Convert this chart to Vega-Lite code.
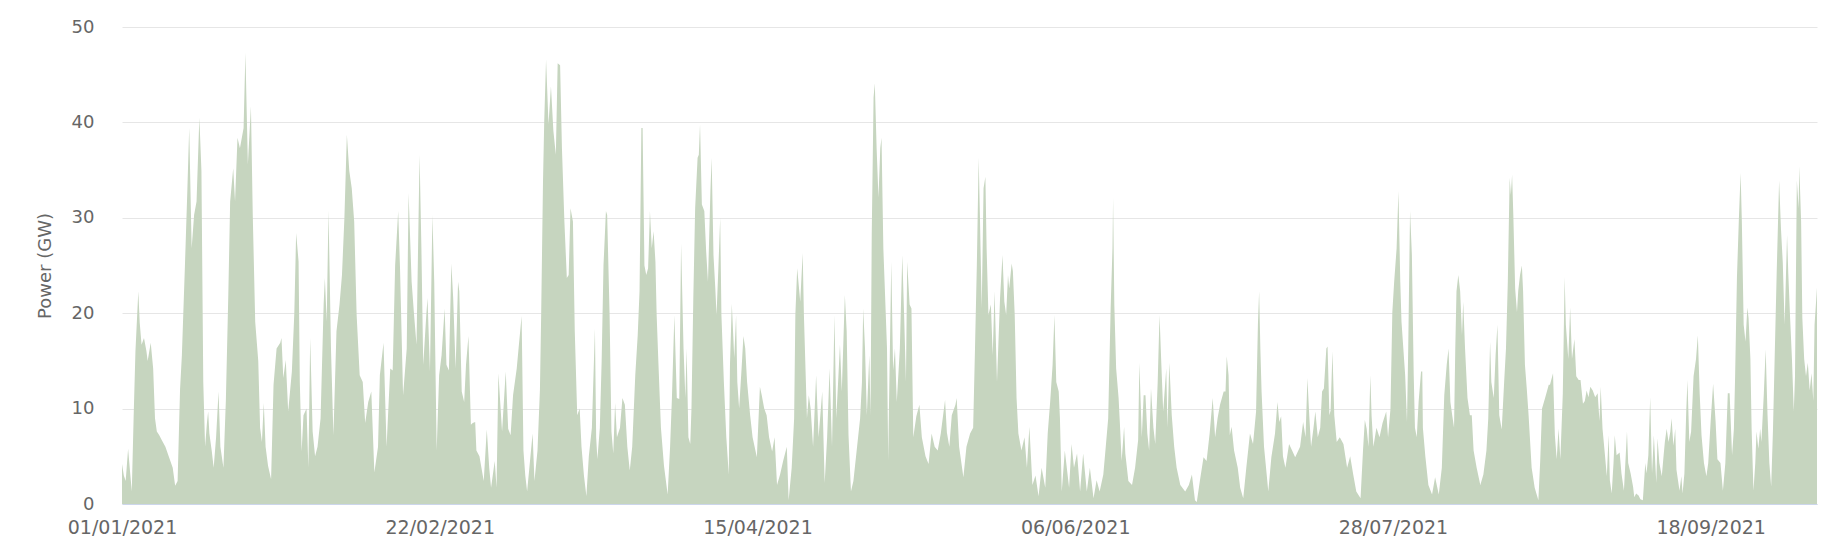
{
  "$schema": "https://vega.github.io/schema/vega-lite/v6.json",
  "width": 1695,
  "height": 477,
  "autosize": {"type": "none"},
  "padding": {"left": 122, "top": 27, "right": 20, "bottom": 48},
  "background": "white",
  "data": {
    "values": [
      {"day":0,"gw":4.2},{"day":0.3,"gw":3.0},{"day":0.6,"gw":2.4},{"day":1.0,"gw":5.8},{"day":1.3,"gw":3.5},{"day":1.6,"gw":1.3},{"day":1.9,"gw":9},{"day":2.2,"gw":16},{"day":2.67,"gw":22.3},{"day":2.9,"gw":19},{"day":3.2,"gw":16.7},{"day":3.6,"gw":17.4},{"day":4.0,"gw":16},{"day":4.2,"gw":15},{"day":4.7,"gw":16.9},{"day":5.1,"gw":14.2},{"day":5.4,"gw":9},{"day":5.7,"gw":7.6},{"day":6.1,"gw":7.2},{"day":6.5,"gw":6.7},{"day":7.1,"gw":6.0},{"day":7.7,"gw":4.9},{"day":8.3,"gw":3.8},{"day":8.7,"gw":1.9},{"day":9.1,"gw":2.4},{"day":9.5,"gw":12},{"day":9.8,"gw":15.6},{"day":10.3,"gw":25},{"day":10.7,"gw":33},{"day":11.0,"gw":39.4},{"day":11.4,"gw":26.8},{"day":11.8,"gw":30.3},{"day":12.2,"gw":31.7},{"day":12.66,"gw":40.5},{"day":13.0,"gw":34.9},{"day":13.3,"gw":12.8},{"day":13.6,"gw":6},{"day":13.9,"gw":8.5},{"day":14.1,"gw":9.7},{"day":14.3,"gw":7.4},{"day":14.7,"gw":5.5},{"day":15.0,"gw":3.8},{"day":15.4,"gw":7},{"day":15.8,"gw":11.8},{"day":16.1,"gw":6},{"day":16.6,"gw":3.8},{"day":17.0,"gw":10.9},{"day":17.4,"gw":22},{"day":17.7,"gw":31.7},{"day":18.2,"gw":35.2},{"day":18.5,"gw":31.7},{"day":18.9,"gw":38.4},{"day":19.3,"gw":37.3},{"day":19.9,"gw":39.4},{"day":20.2,"gw":47.3},{"day":20.6,"gw":35.6},{"day":21.1,"gw":41.7},{"day":21.4,"gw":30.3},{"day":21.8,"gw":19.1},{"day":22.3,"gw":15},{"day":22.6,"gw":8},{"day":22.9,"gw":6.5},{"day":23.2,"gw":10.6},{"day":23.5,"gw":6},{"day":23.9,"gw":4},{"day":24.4,"gw":2.6},{"day":24.8,"gw":12.5},{"day":25.3,"gw":16.3},{"day":25.9,"gw":16.9},{"day":26.1,"gw":17.4},{"day":26.4,"gw":13.2},{"day":26.8,"gw":15.1},{"day":27.2,"gw":9.7},{"day":27.8,"gw":13.9},{"day":28.2,"gw":20},{"day":28.5,"gw":28.4},{"day":28.9,"gw":25.4},{"day":29.1,"gw":12.8},{"day":29.4,"gw":5.5},{"day":29.7,"gw":9.3},{"day":30.2,"gw":10},{"day":30.5,"gw":3.8},{"day":30.8,"gw":17.4},{"day":31.2,"gw":7.6},{"day":31.6,"gw":5},{"day":32.0,"gw":6},{"day":32.5,"gw":9},{"day":33.0,"gw":20.9},{"day":33.2,"gw":23.7},{"day":33.5,"gw":19.1},{"day":33.8,"gw":30.8},{"day":34.2,"gw":16.3},{"day":34.6,"gw":7.2},{"day":35.1,"gw":18.1},{"day":35.6,"gw":20.9},{"day":36.0,"gw":24},{"day":36.4,"gw":30},{"day":36.8,"gw":38.7},
      {"day":37.2,"gw":34.9},{"day":37.6,"gw":33.1},{"day":38.0,"gw":29.6},{"day":38.4,"gw":19.8},{"day":38.9,"gw":13.5},{"day":39.4,"gw":12.8},{"day":39.8,"gw":8.5},{"day":40.3,"gw":10.7},{"day":40.8,"gw":11.8},{"day":41.3,"gw":3.3},{"day":41.9,"gw":6},{"day":42.2,"gw":13.5},{"day":42.8,"gw":16.9},{"day":43.3,"gw":6},{"day":43.9,"gw":14.2},{"day":44.3,"gw":14},{"day":44.7,"gw":25},{"day":45.2,"gw":30.7},{"day":45.5,"gw":24.7},{"day":46.0,"gw":11.4},{"day":46.6,"gw":16.3},{"day":46.9,"gw":32.6},{"day":47.4,"gw":23.3},{"day":47.8,"gw":19.8},{"day":48.2,"gw":16.7},{"day":48.7,"gw":36.6},{"day":49.0,"gw":26.8},{"day":49.3,"gw":14.6},{"day":49.8,"gw":19.8},{"day":50.0,"gw":21.6},{"day":50.4,"gw":13.9},{"day":50.8,"gw":30.3},{"day":51.1,"gw":23.3},{"day":51.5,"gw":5.6},{"day":51.9,"gw":13.5},{"day":52.3,"gw":15.6},{"day":52.8,"gw":20.5},{"day":53.1,"gw":14.6},{"day":53.5,"gw":14},{"day":53.9,"gw":25.2},{"day":54.2,"gw":21.6},{"day":54.6,"gw":14.2},{"day":55.0,"gw":23.3},{"day":55.2,"gw":22.3},{"day":55.6,"gw":11.8},{"day":56.0,"gw":10.7},{"day":56.3,"gw":14.6},{"day":56.7,"gw":17.6},{"day":57.1,"gw":8.3},{"day":57.4,"gw":8.5},{"day":57.8,"gw":8.6},{"day":58.0,"gw":5.6},{"day":58.5,"gw":5},{"day":59.2,"gw":2.4},{"day":59.7,"gw":7.8},{"day":60.1,"gw":3.8},{"day":60.4,"gw":1.7},{"day":61.0,"gw":4.5},{"day":61.3,"gw":1.7},{"day":61.6,"gw":13.7},{"day":62.2,"gw":7.6},{"day":62.8,"gw":13.9},{"day":63.2,"gw":7.9},{"day":63.6,"gw":7.2},{"day":64.0,"gw":11.4},{"day":64.6,"gw":14.2},{"day":64.9,"gw":16.3},{"day":65.4,"gw":19.7},{"day":65.7,"gw":5.6},{"day":66.0,"gw":3},{"day":66.3,"gw":1.3},{"day":66.7,"gw":4},{"day":67.2,"gw":7.4},{"day":67.5,"gw":2.4},{"day":68.0,"gw":5.6},{"day":68.4,"gw":12},{"day":68.6,"gw":19.8},{"day":68.9,"gw":33.8},{"day":69.1,"gw":40.1},{"day":69.4,"gw":46.6},{"day":69.8,"gw":39.8},{"day":70.2,"gw":43.8},{"day":70.6,"gw":39.1},{"day":71.0,"gw":36.6},{"day":71.3,"gw":46.2},{"day":71.7,"gw":46.0},{"day":72.0,"gw":37.3},{"day":72.4,"gw":29.6},{"day":72.8,"gw":23.7},{"day":73.1,"gw":24},{"day":73.4,"gw":31},{"day":73.8,"gw":29.6},{"day":74.1,"gw":18.1},{"day":74.5,"gw":9.3},{"day":74.9,"gw":10},
      {"day":75.2,"gw":6},{"day":75.6,"gw":3},{"day":76.0,"gw":0.8},{"day":76.4,"gw":5},{"day":76.9,"gw":8},{"day":77.4,"gw":18.4},{"day":77.6,"gw":7},{"day":77.8,"gw":4.7},{"day":78.2,"gw":8},{"day":78.5,"gw":15},{"day":78.8,"gw":25},{"day":79.2,"gw":30.7},{"day":79.4,"gw":30.3},{"day":79.8,"gw":19.8},{"day":80.1,"gw":7.6},{"day":80.4,"gw":5.3},{"day":80.7,"gw":10.6},{"day":81.0,"gw":7},{"day":81.5,"gw":8},{"day":81.9,"gw":11.1},{"day":82.3,"gw":10.4},{"day":82.7,"gw":6},{"day":83.1,"gw":3.5},{"day":83.5,"gw":6},{"day":84.0,"gw":13.5},{"day":84.4,"gw":17.7},{"day":84.7,"gw":22.3},{"day":85.0,"gw":39.4},{"day":85.2,"gw":39.4},{"day":85.5,"gw":25},{"day":85.8,"gw":24},{"day":86.1,"gw":24.7},{"day":86.4,"gw":30.7},{"day":86.7,"gw":26.8},{"day":87.0,"gw":28.6},{"day":87.3,"gw":25.4},{"day":87.5,"gw":19.8},{"day":87.8,"gw":14.6},{"day":88.2,"gw":8},{"day":88.7,"gw":4},{"day":89.3,"gw":1.0},{"day":89.7,"gw":6},{"day":90.0,"gw":11.1},{"day":90.4,"gw":19.8},{"day":90.8,"gw":11.1},{"day":91.2,"gw":11},{"day":91.5,"gw":27.3},{"day":91.9,"gw":16.3},{"day":92.2,"gw":11.1},{"day":92.4,"gw":16.3},{"day":92.7,"gw":7},{"day":93.0,"gw":6.3},{"day":93.2,"gw":10},{"day":93.5,"gw":21.6},{"day":93.8,"gw":31},{"day":94.2,"gw":36.3},{"day":94.4,"gw":36.6},{"day":94.6,"gw":39.8},{"day":94.9,"gw":31.4},{"day":95.3,"gw":30.7},{"day":95.6,"gw":26.5},{"day":95.9,"gw":23.3},{"day":96.3,"gw":32.8},{"day":96.5,"gw":36.3},{"day":96.8,"gw":26.1},{"day":97.1,"gw":22.6},{"day":97.3,"gw":19.8},{"day":97.6,"gw":24.7},{"day":97.9,"gw":30},{"day":98.1,"gw":19.8},{"day":98.5,"gw":12.8},{"day":98.9,"gw":7},{"day":99.3,"gw":3.1},{"day":99.5,"gw":14.6},{"day":99.8,"gw":21},{"day":100.2,"gw":15.3},{"day":100.5,"gw":19.8},{"day":100.7,"gw":12.8},{"day":101.0,"gw":10},{"day":101.4,"gw":14.2},{"day":101.7,"gw":17.6},{"day":102.0,"gw":16.3},{"day":102.3,"gw":12.8},{"day":102.8,"gw":9.3},{"day":103.2,"gw":7},{"day":103.9,"gw":4.9},{"day":104.4,"gw":12.3},{"day":104.7,"gw":11.4},{"day":105.1,"gw":10},{"day":105.5,"gw":9.3},{"day":105.9,"gw":7},{"day":106.4,"gw":5.5},{"day":106.8,"gw":7},{"day":107.2,"gw":2.0},{"day":107.7,"gw":3.1},{"day":108.2,"gw":4.5},{"day":108.8,"gw":6},{"day":109.1,"gw":0.4},{"day":109.6,"gw":3.8},{"day":110.0,"gw":9},{"day":110.2,"gw":19.8},{"day":110.5,"gw":24.7},{"day":111.0,"gw":21.2},{"day":111.4,"gw":26.3},{"day":111.6,"gw":19.8},{"day":112.1,"gw":9},{"day":112.4,"gw":11.4},{"day":112.7,"gw":10},{"day":113.1,"gw":6},{"day":113.6,"gw":13.5},{"day":114.0,"gw":7},{"day":114.6,"gw":11.8},
      {"day":115.0,"gw":2.2},{"day":115.4,"gw":7},{"day":115.8,"gw":14.2},{"day":116.2,"gw":6},{"day":116.6,"gw":19.8},{"day":116.9,"gw":9},{"day":117.5,"gw":16.7},{"day":117.8,"gw":11.8},{"day":118.3,"gw":21.9},{"day":118.6,"gw":18.1},{"day":118.9,"gw":7.2},{"day":119.3,"gw":1.3},{"day":119.7,"gw":2.4},{"day":120.3,"gw":6},{"day":120.8,"gw":9},{"day":121.1,"gw":12.8},{"day":121.3,"gw":20.5},{"day":121.6,"gw":16.3},{"day":121.9,"gw":9.3},{"day":122.3,"gw":15.6},{"day":122.5,"gw":9.3},{"day":122.7,"gw":28.2},{"day":123.0,"gw":42.6},{"day":123.2,"gw":44.1},{"day":123.5,"gw":37.3},{"day":123.8,"gw":32.1},{"day":124.1,"gw":37.3},{"day":124.3,"gw":38.4},{"day":124.6,"gw":26.8},{"day":124.9,"gw":21.6},{"day":125.2,"gw":16.3},{"day":125.4,"gw":4.5},{"day":125.5,"gw":9.3},{"day":125.9,"gw":25.4},{"day":126.2,"gw":14},{"day":126.5,"gw":16.3},{"day":126.8,"gw":10.7},{"day":127.3,"gw":16.3},{"day":127.7,"gw":26.1},{"day":128.0,"gw":19.8},{"day":128.3,"gw":12.8},{"day":128.5,"gw":25.4},{"day":128.9,"gw":20.9},{"day":129.2,"gw":20.5},{"day":129.5,"gw":7},{"day":130.0,"gw":9.2},{"day":130.5,"gw":10.4},{"day":130.9,"gw":7},{"day":131.5,"gw":5},{"day":132.0,"gw":4.2},{"day":132.5,"gw":7.4},{"day":133.0,"gw":6},{"day":133.5,"gw":5.6},{"day":134.0,"gw":7.4},{"day":134.7,"gw":10.9},{"day":135.0,"gw":7.5},{"day":135.4,"gw":6},{"day":135.8,"gw":9.3},{"day":136.4,"gw":10.4},{"day":136.6,"gw":11.1},{"day":137.0,"gw":6},{"day":137.7,"gw":2.8},{"day":138.2,"gw":6},{"day":138.8,"gw":7.4},{"day":139.3,"gw":8},{"day":139.6,"gw":16.3},{"day":139.9,"gw":25},{"day":140.2,"gw":36.3},{"day":140.4,"gw":30.3},{"day":140.7,"gw":20.5},{"day":141.0,"gw":33.1},{"day":141.3,"gw":34.3},{"day":141.5,"gw":26.8},{"day":141.8,"gw":19.8},{"day":142.2,"gw":20.9},{"day":142.5,"gw":15.6},{"day":142.8,"gw":22.3},{"day":143.2,"gw":12.8},{"day":143.4,"gw":16.3},{"day":143.7,"gw":21.6},{"day":144.1,"gw":26.1},{"day":144.4,"gw":21.2},{"day":144.7,"gw":19.8},{"day":145.0,"gw":24},{"day":145.2,"gw":22.6},{"day":145.6,"gw":25.2},{"day":145.8,"gw":24.4},{"day":146.1,"gw":19.8},{"day":146.4,"gw":11.1},{"day":146.7,"gw":7.4},{"day":147.2,"gw":5.6},{"day":147.7,"gw":7},{"day":148.1,"gw":3.8},{"day":148.5,"gw":8.1},{"day":149.0,"gw":2.0},{"day":149.5,"gw":3},{"day":150.0,"gw":0.8},{"day":150.5,"gw":3.8},{"day":151.1,"gw":1.7},{"day":151.5,"gw":7.4},{"day":151.9,"gw":10.7},{"day":152.3,"gw":14.6},{"day":152.6,"gw":19.8},{"day":152.9,"gw":12.8},{"day":153.3,"gw":11.8},{"day":153.5,"gw":9},{"day":153.8,"gw":1.3},{"day":154.3,"gw":5.6},
      {"day":155.0,"gw":1.7},{"day":155.4,"gw":6.3},{"day":155.8,"gw":3.8},{"day":156.3,"gw":5.3},{"day":156.8,"gw":1.3},{"day":157.3,"gw":5.3},{"day":157.9,"gw":1.3},{"day":158.4,"gw":3.8},{"day":159.0,"gw":0.6},{"day":159.5,"gw":2.5},{"day":160.0,"gw":1.3},{"day":160.6,"gw":3.1},{"day":161.0,"gw":6},{"day":161.4,"gw":9},{"day":161.8,"gw":20.5},{"day":162.1,"gw":26.8},{"day":162.2,"gw":32.1},{"day":162.4,"gw":20.9},{"day":162.7,"gw":14.2},{"day":163.1,"gw":11.1},{"day":163.3,"gw":8.6},{"day":163.6,"gw":4.5},{"day":164.0,"gw":8.1},{"day":164.2,"gw":5.3},{"day":164.7,"gw":2.4},{"day":165.3,"gw":2.0},{"day":165.8,"gw":3.8},{"day":166.3,"gw":6.7},{"day":166.5,"gw":14.8},{"day":166.9,"gw":7},{"day":167.2,"gw":11.4},{"day":167.5,"gw":11.4},{"day":167.8,"gw":7.4},{"day":168.1,"gw":5.6},{"day":168.4,"gw":12.1},{"day":168.8,"gw":8},{"day":169.1,"gw":6.3},{"day":169.5,"gw":12.8},{"day":169.8,"gw":19.8},{"day":170.1,"gw":14.6},{"day":170.4,"gw":9.7},{"day":170.9,"gw":14.2},{"day":171.1,"gw":8},{"day":171.4,"gw":14.8},{"day":171.8,"gw":9.3},{"day":172.2,"gw":6},{"day":172.6,"gw":3.8},{"day":173.2,"gw":2.0},{"day":174.0,"gw":1.3},{"day":174.6,"gw":2.0},{"day":175.1,"gw":3.1},{"day":175.6,"gw":0.4},{"day":175.9,"gw":0.2},{"day":176.4,"gw":2.4},{"day":177.0,"gw":4.9},{"day":177.5,"gw":4.5},{"day":178.0,"gw":7.4},{"day":178.5,"gw":11.1},{"day":178.9,"gw":7},{"day":179.3,"gw":9},{"day":179.7,"gw":10.4},{"day":180.3,"gw":11.8},{"day":180.6,"gw":11.8},{"day":180.8,"gw":15.5},{"day":181.1,"gw":13.5},{"day":181.3,"gw":7.2},{"day":181.6,"gw":8.1},{"day":182.0,"gw":5.6},{"day":182.6,"gw":3.8},{"day":183.0,"gw":1.7},{"day":183.5,"gw":0.6},{"day":184.0,"gw":3.8},{"day":184.6,"gw":7.4},{"day":185.1,"gw":6.3},{"day":185.6,"gw":9.7},{"day":185.9,"gw":18.8},{"day":186.1,"gw":22.3},{"day":186.3,"gw":16.3},{"day":186.5,"gw":11.8},{"day":186.9,"gw":6},{"day":187.2,"gw":4},{"day":187.6,"gw":1.3},{"day":188.1,"gw":4.9},{"day":188.7,"gw":7.4},{"day":189.1,"gw":10.7},{"day":189.4,"gw":8.6},{"day":189.7,"gw":9.2},{"day":190.0,"gw":5},{"day":190.4,"gw":3.8},{"day":191.0,"gw":6.3},{"day":191.5,"gw":5.6},{"day":192.0,"gw":4.9},{"day":192.8,"gw":6},{"day":193.3,"gw":8.6},{"day":193.7,"gw":7},{"day":194.0,"gw":13.2},{"day":194.3,"gw":9.3},{"day":194.6,"gw":6},{"day":195.0,"gw":8},{"day":195.3,"gw":9.7},{"day":195.7,"gw":7},{"day":196.1,"gw":8},{"day":196.4,"gw":11.8},{"day":196.7,"gw":12.1},{"day":197.1,"gw":16.3},{"day":197.3,"gw":16.5},{"day":197.6,"gw":9.3},{"day":197.8,"gw":9.8},{"day":198.1,"gw":16},{"day":198.4,"gw":9.3},{"day":198.8,"gw":6.5},{"day":199.3,"gw":7},{"day":199.9,"gw":6.3},
      {"day":200.5,"gw":3.8},{"day":201.0,"gw":5},{"day":201.5,"gw":3.1},{"day":202.0,"gw":1.3},{"day":202.7,"gw":0.6},{"day":203.1,"gw":5.6},{"day":203.4,"gw":8.8},{"day":203.7,"gw":7.9},{"day":204.0,"gw":6},{"day":204.3,"gw":13.5},{"day":204.5,"gw":9.3},{"day":204.8,"gw":6},{"day":205.3,"gw":8},{"day":205.8,"gw":7},{"day":206.3,"gw":8.5},{"day":206.9,"gw":9.7},{"day":207.2,"gw":7},{"day":207.6,"gw":10},{"day":207.9,"gw":20.1},{"day":208.2,"gw":23.3},{"day":208.6,"gw":26.8},{"day":208.9,"gw":32.8},{"day":209.2,"gw":23.3},{"day":209.4,"gw":19.1},{"day":209.7,"gw":16.3},{"day":210.0,"gw":13.5},{"day":210.3,"gw":8.6},{"day":210.5,"gw":16.3},{"day":210.8,"gw":30.7},{"day":211.1,"gw":26.1},{"day":211.4,"gw":13.5},{"day":211.6,"gw":8},{"day":211.9,"gw":7},{"day":212.2,"gw":10.7},{"day":212.6,"gw":13.9},{"day":212.8,"gw":13.9},{"day":212.9,"gw":8},{"day":213.3,"gw":5},{"day":213.8,"gw":2.0},{"day":214.4,"gw":1.0},{"day":214.9,"gw":2.8},{"day":215.5,"gw":1.0},{"day":216.0,"gw":3.8},{"day":216.4,"gw":11.4},{"day":216.8,"gw":14.6},{"day":217.1,"gw":16.3},{"day":217.4,"gw":10.7},{"day":217.7,"gw":9.3},{"day":218.0,"gw":8},{"day":218.2,"gw":16.3},{"day":218.4,"gw":22.3},{"day":218.7,"gw":24},{"day":219.0,"gw":22.3},{"day":219.3,"gw":17.7},{"day":219.5,"gw":21.2},{"day":219.8,"gw":16.3},{"day":220.2,"gw":11.1},{"day":220.6,"gw":9.3},{"day":220.9,"gw":9.3},{"day":221.2,"gw":5.6},{"day":221.7,"gw":3.8},{"day":222.3,"gw":2.0},{"day":222.8,"gw":3.1},{"day":223.3,"gw":5.6},{"day":223.6,"gw":9},{"day":223.9,"gw":17},{"day":224.1,"gw":12.8},{"day":224.5,"gw":11.1},{"day":224.8,"gw":15.6},{"day":225.1,"gw":18.8},{"day":225.4,"gw":9.3},{"day":225.8,"gw":7.8},{"day":226.2,"gw":12.8},{"day":226.5,"gw":16.3},{"day":226.8,"gw":23.3},{"day":227.1,"gw":34.2},{"day":227.3,"gw":32.4},{"day":227.5,"gw":34.5},{"day":227.7,"gw":30.3},{"day":228.0,"gw":22.6},{"day":228.3,"gw":20.1},{"day":228.5,"gw":22.3},{"day":228.8,"gw":24},{"day":229.1,"gw":25},{"day":229.3,"gw":22.3},{"day":229.6,"gw":14.6},{"day":229.9,"gw":12.1},{"day":230.2,"gw":9.3},{"day":230.7,"gw":3.8},{"day":231.2,"gw":1.7},{"day":231.8,"gw":0.4},{"day":232.1,"gw":4.5},{"day":232.4,"gw":10},{"day":232.9,"gw":11.1},{"day":233.5,"gw":12.5},{"day":233.7,"gw":12.5},{"day":234.2,"gw":13.7},
      {"day":234.5,"gw":7.2},{"day":234.8,"gw":4.7},{"day":235.1,"gw":7.9},{"day":235.4,"gw":4.7},{"day":235.8,"gw":11.6},{"day":236.1,"gw":23.8},{"day":236.3,"gw":18.8},{"day":236.7,"gw":15.2},{"day":237.0,"gw":20.6},{"day":237.3,"gw":15.2},{"day":237.7,"gw":17.3},{"day":238.0,"gw":13.4},{"day":238.4,"gw":13},{"day":238.7,"gw":13},{"day":239.1,"gw":10.5},{"day":239.4,"gw":10.8},{"day":239.7,"gw":11.9},{"day":240.0,"gw":11.2},{"day":240.3,"gw":12.3},{"day":240.7,"gw":11.9},{"day":241.1,"gw":11.2},{"day":241.5,"gw":11.6},{"day":241.8,"gw":8.7},{"day":242.0,"gw":12.3},{"day":242.3,"gw":7.9},{"day":242.7,"gw":5.1},{"day":243.0,"gw":2.9},{"day":243.3,"gw":7.2},{"day":243.5,"gw":2.5},{"day":243.8,"gw":1.1},{"day":244.1,"gw":4.3},{"day":244.3,"gw":7.2},{"day":244.6,"gw":5.1},{"day":245.1,"gw":5.4},{"day":245.4,"gw":3.2},{"day":245.8,"gw":1.4},{"day":246.3,"gw":7.6},{"day":246.5,"gw":4.3},{"day":246.9,"gw":3.2},{"day":247.3,"gw":1.8},{"day":247.5,"gw":0.7},{"day":247.8,"gw":1.1},{"day":248.2,"gw":0.9},{"day":248.5,"gw":0.5},{"day":248.9,"gw":0.4},{"day":249.3,"gw":4.3},{"day":249.5,"gw":3.2},{"day":249.8,"gw":5.1},{"day":250.1,"gw":11.2},{"day":250.4,"gw":3.2},{"day":250.7,"gw":7.2},{"day":251.1,"gw":2.2},{"day":251.3,"gw":6.9},{"day":251.6,"gw":4.3},{"day":252.0,"gw":2.9},{"day":252.3,"gw":5.1},{"day":252.5,"gw":6.5},{"day":252.8,"gw":7.9},{"day":253.1,"gw":6.5},{"day":253.4,"gw":7.6},{"day":253.6,"gw":9},{"day":253.9,"gw":6.1},{"day":254.2,"gw":7.9},{"day":254.4,"gw":3.6},{"day":254.9,"gw":1.4},{"day":255.2,"gw":2.9},{"day":255.4,"gw":1.1},{"day":255.7,"gw":3.2},{"day":256.0,"gw":9.7},{"day":256.2,"gw":13},{"day":256.5,"gw":6.5},{"day":256.8,"gw":7.6},{"day":257.2,"gw":13.4},{"day":257.6,"gw":15.2},{"day":257.9,"gw":17.7},{"day":258.2,"gw":11.6},{"day":258.5,"gw":7.2},{"day":258.9,"gw":4.3},{"day":259.3,"gw":2.9},{"day":259.6,"gw":4.3},{"day":260.0,"gw":8.7},{"day":260.4,"gw":12.6},{"day":260.8,"gw":8.7},{"day":261.1,"gw":4.7},{"day":261.6,"gw":4.3},{"day":262.0,"gw":1.4},{"day":262.4,"gw":4.3},{"day":262.8,"gw":11.6},{"day":263.1,"gw":11.6},{"day":263.5,"gw":5.1},{"day":263.8,"gw":7.9},{"day":264.0,"gw":13.4},{"day":264.3,"gw":23.8},{"day":264.6,"gw":29.6},{"day":264.9,"gw":34.7},{"day":265.1,"gw":29.6},{"day":265.4,"gw":18.8},{"day":265.7,"gw":17},{"day":266.0,"gw":20.6},{"day":266.2,"gw":19.5},{"day":266.5,"gw":15.2},{"day":266.7,"gw":7.9},{"day":267.0,"gw":1.4},{"day":267.3,"gw":4.3},{"day":267.5,"gw":7.6},{"day":267.8,"gw":5.8},{"day":268.1,"gw":7.9},{"day":268.3,"gw":6.5},{"day":268.7,"gw":11.6},{"day":269.0,"gw":16.2},{"day":269.3,"gw":9.4},{"day":269.6,"gw":4.3},{"day":269.9,"gw":1.8},{"day":270.2,"gw":7.9},{"day":270.4,"gw":13.4},{"day":270.8,"gw":24.2},{"day":271.2,"gw":33.9},{"day":271.5,"gw":28.9},{"day":271.8,"gw":25.3},{"day":272.1,"gw":18.8},{"day":272.5,"gw":28.2},{"day":272.7,"gw":24.2},{"day":273.0,"gw":19.5},{"day":273.3,"gw":15.2},{"day":273.6,"gw":9.7},{"day":273.8,"gw":13.4},{"day":274.1,"gw":33.9},{"day":274.4,"gw":31},{"day":274.5,"gw":35.4},{"day":274.8,"gw":29.6},{"day":275.0,"gw":19.5},{"day":275.3,"gw":15.2},{"day":275.6,"gw":13.4},{"day":275.9,"gw":14.8},{"day":276.2,"gw":11.9},{"day":276.5,"gw":13.7},{"day":276.8,"gw":10.8},{"day":277.0,"gw":18.8},{"day":277.4,"gw":22.7}
    ]
  },
  "mark": {"type": "area", "color": "#c6d5bf", "opacity": 1, "interpolate": "linear"},
  "encoding": {
    "x": {
      "field": "day",
      "type": "quantitative",
      "scale": {"domain": [0, 277.4], "nice": false, "zero": false},
      "axis": {
        "title": null,
        "values": [0, 52, 104, 156, 208, 260],
        "labelExpr": "timeFormat(datetime(2021, 0, 1 + datum.value), '%d/%m/%Y')",
        "grid": false,
        "ticks": false,
        "domainColor": "#ccd6eb",
        "domainWidth": 1,
        "labelPadding": 14,
        "labelFontSize": 19,
        "labelColor": "#666666",
        "labelFont": "DejaVu Sans",
        "labelFlush": false,
        "labelOverlap": false
      }
    },
    "y": {
      "field": "gw",
      "type": "quantitative",
      "scale": {"domain": [0, 50], "nice": false},
      "axis": {
        "title": "Power (GW)",
        "values": [0, 10, 20, 30, 40, 50],
        "grid": true,
        "gridColor": "#e6e6e6",
        "gridWidth": 1,
        "domain": false,
        "ticks": false,
        "labelPadding": 28,
        "labelFontSize": 18,
        "labelColor": "#666666",
        "labelFont": "DejaVu Sans",
        "titleFont": "DejaVu Sans",
        "titleFontSize": 18,
        "titleFontWeight": "normal",
        "titleColor": "#666666",
        "titlePadding": 17
      }
    }
  },
  "config": {"view": {"stroke": null}}
}
